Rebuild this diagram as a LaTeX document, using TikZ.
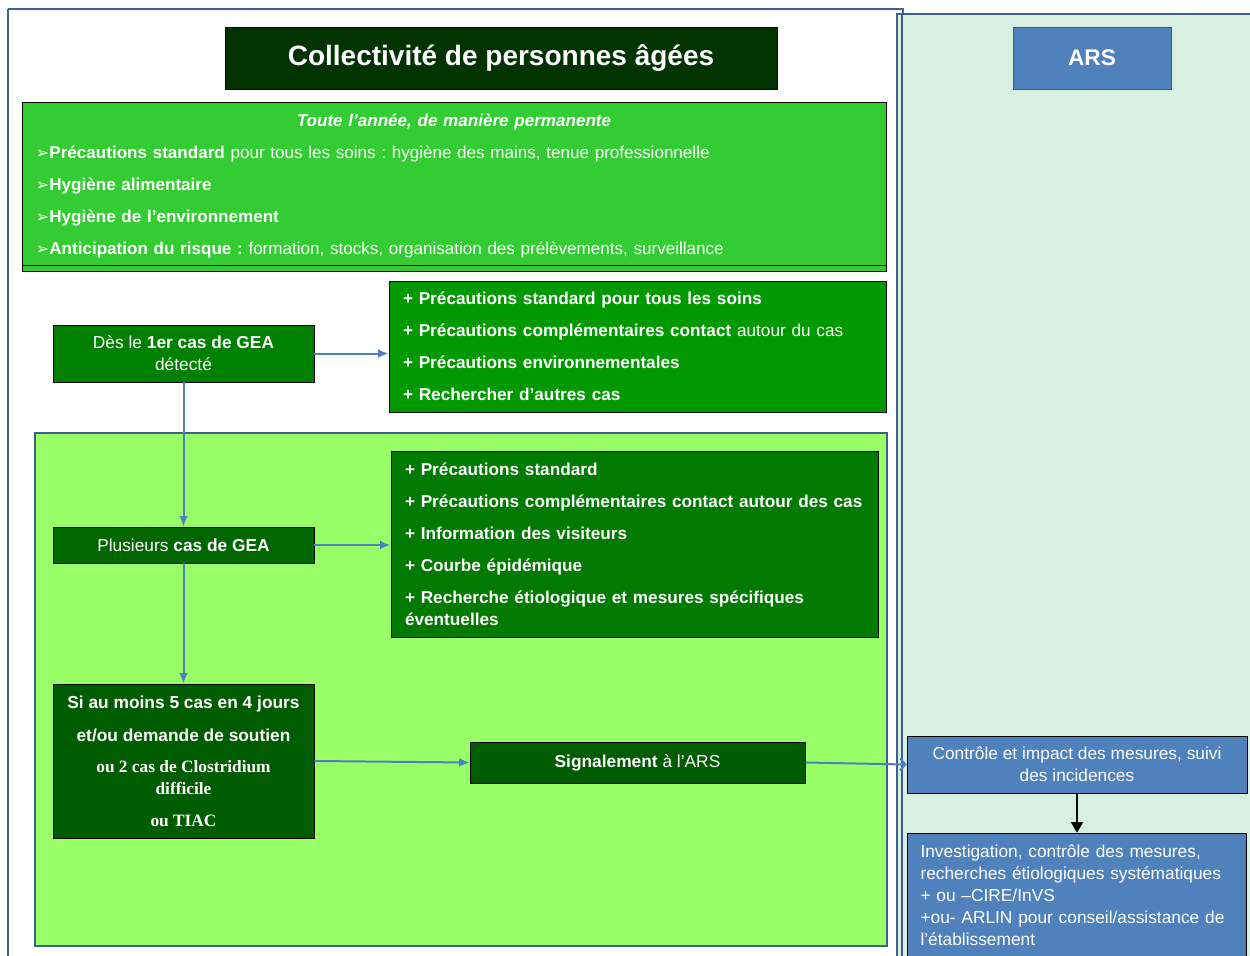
\documentclass[tikz,border=0pt]{standalone}
\usepackage{fontspec}
\setmainfont{Liberation Sans}
\newfontfamily\timesfont{Liberation Serif}
\newfontfamily\symfont{DejaVu Sans}
\usetikzlibrary{arrows.meta}
\definecolor{framec}{HTML}{3F5F8F}
\definecolor{arsblue}{HTML}{4F81BD}
\definecolor{arsline}{HTML}{385D8A}
\definecolor{arsbg}{HTML}{D7F0E1}
\definecolor{titlec}{HTML}{003300}
\definecolor{permc}{HTML}{33CC33}
\definecolor{firstc}{HTML}{008000}
\definecolor{actsa}{HTML}{009900}
\definecolor{zonec}{HTML}{99FF66}
\definecolor{severalc}{HTML}{006600}
\definecolor{actsb}{HTML}{007A00}
\definecolor{alertc}{HTML}{005C00}
\newcommand{\pt}{{\symfont\fontsize{12}{12}\selectfont ➢}}
\frenchspacing
\begin{document}
\begin{tikzpicture}[x=0.75pt, y=-0.75pt, >=latex]
	\tikzstyle{box} = [rectangle, draw=black, text=white, inner sep=0pt, align=center]
	\tikzstyle{listbox} = [box, align=left, inner xsep=10.5pt, font=\fontsize{12.9}{24}\selectfont\bfseries]
	\tikzstyle{arsbox} = [rectangle, draw=black, fill=arsblue, text=white, inner sep=0pt, font=\fontsize{13}{16.5}\selectfont]
	\tikzstyle{link} = [draw=arsblue, line width=1.5pt, -{Latex[length=8pt,width=6.5pt]}]
	\useasboundingbox (0,0) rectangle (1250,956);
	% cadres
	\fill[arsbg] (897,14) rectangle (1250,956);
	\draw[framec, line width=1.5pt] (897,956) -- (897,14) -- (1250,14);
	\draw[framec, line width=1pt] (902,956) -- (902,14);
	\draw[framec, line width=1.5pt] (8,956) -- (8,9);
	\draw[framec, line width=2.2pt] (8,9) -- (903,9) -- (903,14);
	\draw[framec, line width=2.2pt, fill=zonec] (35,433) rectangle (887,946);
	% titres
	\node (title) [box, fill=titlec, minimum width=414pt, minimum height=46.5pt, font=\fontsize{21}{24}\selectfont\bfseries] at (501,58) {Collectivité de personnes âgées};
	\node (ars) [rectangle, draw=arsline, fill=arsblue, text=white, minimum width=118.5pt, minimum height=46.5pt, font=\fontsize{17}{20}\selectfont\bfseries] at (1092,58) {ARS};
	% mesures permanentes
	\node (perm) [box, fill=permc, minimum width=648pt, minimum height=126.75pt, text width=627pt, align=left, font=\fontsize{12.8}{24}\selectfont] at (454,186.5) {\makebox[\linewidth][c]{\bfseries\itshape Toute l’année, de manière permanente}\\
		\pt\textbf{Précautions standard} pour tous les soins : hygiène des mains, tenue professionnelle\\
		\pt\textbf{Hygiène alimentaire}\\
		\pt\textbf{Hygiène de l’environnement}\\
		\pt\textbf{Anticipation du risque :} formation, stocks, organisation des prélèvements, surveillance};
	\draw ([yshift=4.5pt]perm.south west) -- ([yshift=4.5pt]perm.south east);
	% premier cas
	\node (first) [box, fill=firstc, minimum width=195.75pt, minimum height=42.75pt, font=\fontsize{13}{16.5}\selectfont] at (183.5,353.5) {Dès le \textbf{1er cas de GEA}\\détecté};
	\node (acts1) [listbox, fill=actsa, minimum width=372.75pt, minimum height=98.25pt, text width=351.75pt] at (637.5,346.5) {+ Précautions standard pour tous les soins\\
		+ Précautions complémentaires contact \textmd{autour du cas}\\
		+ Précautions environnementales\\
		+ Rechercher d’autres cas};
	% plusieurs cas
	\node (several) [box, fill=severalc, minimum width=195.75pt, minimum height=27pt, font=\fontsize{13}{16.5}\selectfont] at (183.5,545) {Plusieurs \textbf{cas de GEA}};
	\node (acts2) [listbox, fill=actsb, minimum width=365.25pt, minimum height=139.5pt, text width=344.25pt] at (634.5,544) {+ Précautions standard\\
		+ Précautions complémentaires contact autour des cas\\
		+ Information des visiteurs\\
		+ Courbe épidémique\\
		+ Recherche étiologique et mesures spécifiques\\[-7.5pt]
		éventuelles};
	% signalement
	\node (alert) [box, fill=alertc, minimum width=195.75pt, minimum height=115.5pt, font=\fontsize{13}{16.5}\selectfont\bfseries] at (183.5,761) {Si au moins 5 cas en 4 jours\\[8.25pt]
		et/ou demande de soutien\\[6.75pt]
		{\timesfont ou 2 cas de Clostridium}\\
		{\timesfont difficile}\\[7.5pt]
		{\timesfont ou TIAC}};
	\node (report) [box, fill=alertc, minimum width=251.25pt, minimum height=30.75pt, font=\fontsize{13}{16.5}\selectfont] at (637.5,762.5) {\textbf{Signalement} à l’ARS};
	% ARS
	\node (control) [arsbox, minimum width=255pt, minimum height=42.75pt, align=center] at (1077,764.5) {Contrôle et impact des mesures, suivi\\des incidences};
	\node (invest) [arsbox, minimum width=254.25pt, minimum height=93pt, text width=234pt, align=left] at (1076.5,895) {Investigation, contrôle des mesures,\\
		recherches étiologiques systématiques\\
		+ ou –CIRE/InVS\\
		+ou- ARLIN pour conseil/assistance de\\
		l’établissement};
	% liens
	\draw[link] (first.east) -- (first.east -| acts1.west);
	\draw[link] (first.south) -- (several.north);
	\draw[link] (several.east) -- (several.east -| acts2.west);
	\draw[link] (several.south) -- (alert.north);
	\draw[link] (alert.east) -- (report.west);
	\draw[draw=arsblue, line width=1.5pt, -{Straight Barb[length=4pt,width=9pt]}] (report.east) -- (control.west);
	\draw[line width=1.2pt, -{Triangle[length=8pt,width=9pt]}] (control.south) -- (control.south |- invest.north);
\end{tikzpicture}
\end{document}
